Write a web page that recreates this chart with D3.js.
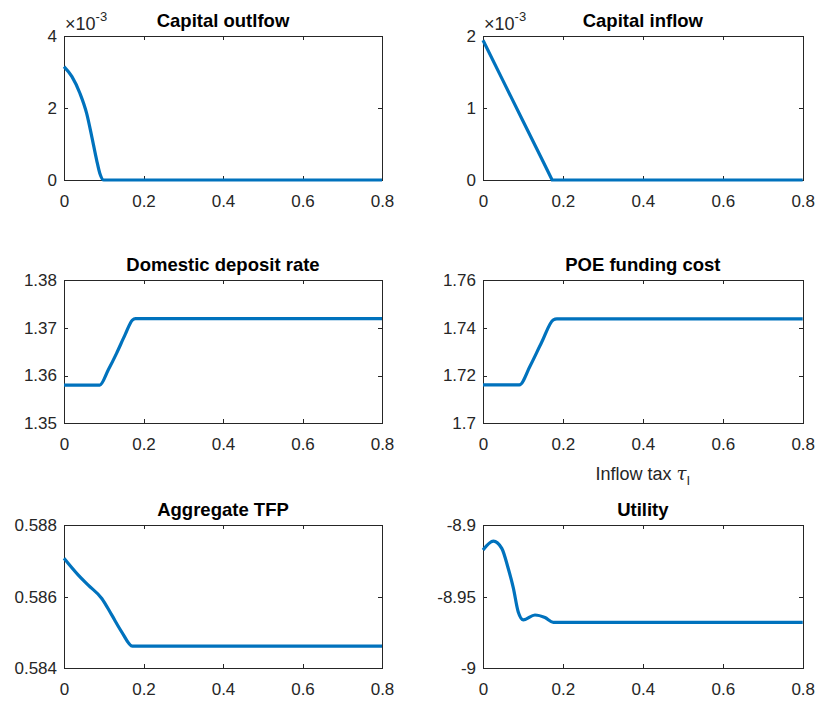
<!DOCTYPE html>
<html>
<head>
<meta charset="utf-8">
<script src="https://cdn.jsdelivr.net/npm/d3@7"></script>
<style>
  body { margin: 0; background: #fff; }
  svg { font-family: Helvetica, Arial, "Liberation Sans", sans-serif; }
</style>
</head>
<body>
<script>
// inflow tax grid points
const outflowTau = [0, 0.02, 0.04, 0.057, 0.07, 0.082, 0.09, 0.1, 0.8];
const outflowE3 = [3.15, 2.87, 2.41, 1.85, 1.20, 0.56, 0.19, 0, 0];

const inflowTau = [0, 0.05, 0.1, 0.15, 0.173, 0.8];
const inflowE3 = [1.94, 1.38, 0.82, 0.26, 0, 0];

const depositTau = [0, 0.09, 0.1115, 0.1325, 0.1535, 0.172, 0.18, 0.8];
const depositRate = [1.358, 1.358, 1.3612, 1.3647, 1.3685, 1.3716, 1.3719, 1.3719];

const poeTau = [0, 0.091, 0.1176, 0.1468, 0.176, 0.185, 0.8];
const poeCost = [1.7161, 1.7161, 1.7239, 1.7339, 1.7433, 1.7437, 1.7437];

const tfpTau = [0, 0.036, 0.061, 0.095, 0.12, 0.145, 0.172, 0.8];
const tfp = [0.58707, 0.5866, 0.58632, 0.58595, 0.58549, 0.58502, 0.58462, 0.58462];

const utilTau = [0, 0.026, 0.047, 0.063, 0.076, 0.088, 0.101, 0.13, 0.155, 0.176, 0.8];
const utility = [-8.9174, -8.9112, -8.9163, -8.9302, -8.9441, -8.9605, -8.9662, -8.9628, -8.9646, -8.9679, -8.9679];

const xTicks = [0, 0.2, 0.4, 0.6, 0.8];

const titles = ["Capital outlfow", "Capital inflow", "Domestic deposit rate",
                "POE funding cost", "Aggregate TFP", "Utility"];

const options = {
    width: 817,
    height: 702,
    cols: [[64, 382], [483, 802.7]],
    rows: [[36, 180], [280, 423.3], [525, 668.3]],
    lineColor: "#0072BD",
    axisColor: "#262626",
}

const panels = [
    { x: outflowTau, y: outflowE3, yDomain: [0, 4], yTicks: [0, 2, 4], exp: "-3" },
    { x: inflowTau, y: inflowE3, yDomain: [0, 2], yTicks: [0, 1, 2], exp: "-3", straight: true },
    { x: depositTau, y: depositRate, yDomain: [1.35, 1.38], yTicks: [1.35, 1.36, 1.37, 1.38] },
    { x: poeTau, y: poeCost, yDomain: [1.7, 1.76], yTicks: [1.7, 1.72, 1.74, 1.76], xlabel: true },
    { x: tfpTau, y: tfp, yDomain: [0.584, 0.588], yTicks: [0.584, 0.586, 0.588] },
    { x: utilTau, y: utility, yDomain: [-9, -8.9], yTicks: [-9, -8.95, -8.9] },
]

let svg = d3.select("body")
    .append("svg")
    .attr("width", options.width)
    .attr("height", options.height)

panels.forEach((p, i) => {
    const [x0, x1] = options.cols[i % 2];
    const [y0, y1] = options.rows[Math.floor(i / 2)];

    const xScale = d3.scaleLinear().domain([0, 0.8]).range([x0, x1]);
    const yScale = d3.scaleLinear().domain(p.yDomain).range([y1, y0]);

    let g = svg.append("g");

    // bottom / left axes with labels, ticks pointing inward
    g.append("g")
        .attr("transform", `translate(0,${y1})`)
        .call(d3.axisBottom(xScale).tickValues(xTicks).tickSizeInner(-4).tickSizeOuter(0)
            .tickPadding(15).tickFormat(d => String(d)));
    g.append("g")
        .attr("transform", `translate(${x0},0)`)
        .call(d3.axisLeft(yScale).tickValues(p.yTicks).tickSizeInner(-4).tickSizeOuter(0)
            .tickPadding(7).tickFormat(d => String(d)));
    // top / right box lines
    g.append("g")
        .attr("transform", `translate(0,${y0})`)
        .call(d3.axisTop(xScale).tickValues(xTicks).tickSizeInner(-4).tickSizeOuter(0).tickFormat(""));
    g.append("g")
        .attr("transform", `translate(${x1},0)`)
        .call(d3.axisRight(yScale).tickValues(p.yTicks).tickSizeInner(-4).tickSizeOuter(0).tickFormat(""));

    g.selectAll(".domain, .tick line").attr("stroke", options.axisColor).attr("shape-rendering", "crispEdges");
    g.selectAll(".tick text").attr("fill", options.axisColor).style("font-size", "17px")
        .style("font-family", "Helvetica, Arial, 'Liberation Sans', sans-serif");

    const line = d3.line()
        .x((d, k) => xScale(p.x[k]))
        .y(d => yScale(d))
        .curve(p.straight ? d3.curveLinear : d3.curveMonotoneX);

    g.append("path")
        .datum(p.y)
        .attr("fill", "none")
        .attr("stroke", options.lineColor)
        .attr("stroke-width", 3.2)
        .attr("stroke-linejoin", "round")
        .attr("d", line);

    g.append("text")
        .attr("x", (x0 + x1) / 2)
        .attr("y", y0 - 9)
        .attr("text-anchor", "middle")
        .style("font-size", "18.5px")
        .style("font-weight", "bold")
        .attr("fill", "#000")
        .text(titles[i]);

    if (p.exp) {
        let t = g.append("text")
            .attr("x", x0 + 1)
            .attr("y", y0 - 6)
            .attr("fill", options.axisColor)
            .style("font-size", "18px");
        t.append("tspan").text("\u00d710");
        t.append("tspan").attr("dy", -9).style("font-size", "13px").text(p.exp);
    }

    if (p.xlabel) {
        let t = g.append("text")
            .attr("x", (x0 + x1) / 2)
            .attr("y", y1 + 57)
            .attr("text-anchor", "middle")
            .attr("fill", options.axisColor)
            .style("font-size", "18px");
        t.append("tspan").text("Inflow tax ");
        t.append("tspan").style("font-style", "italic").style("font-family", "'DejaVu Serif', serif").text("\u03c4");
        t.append("tspan").attr("dy", 5).style("font-size", "13px").text("I");
    }
});
</script>
</body>
</html>
